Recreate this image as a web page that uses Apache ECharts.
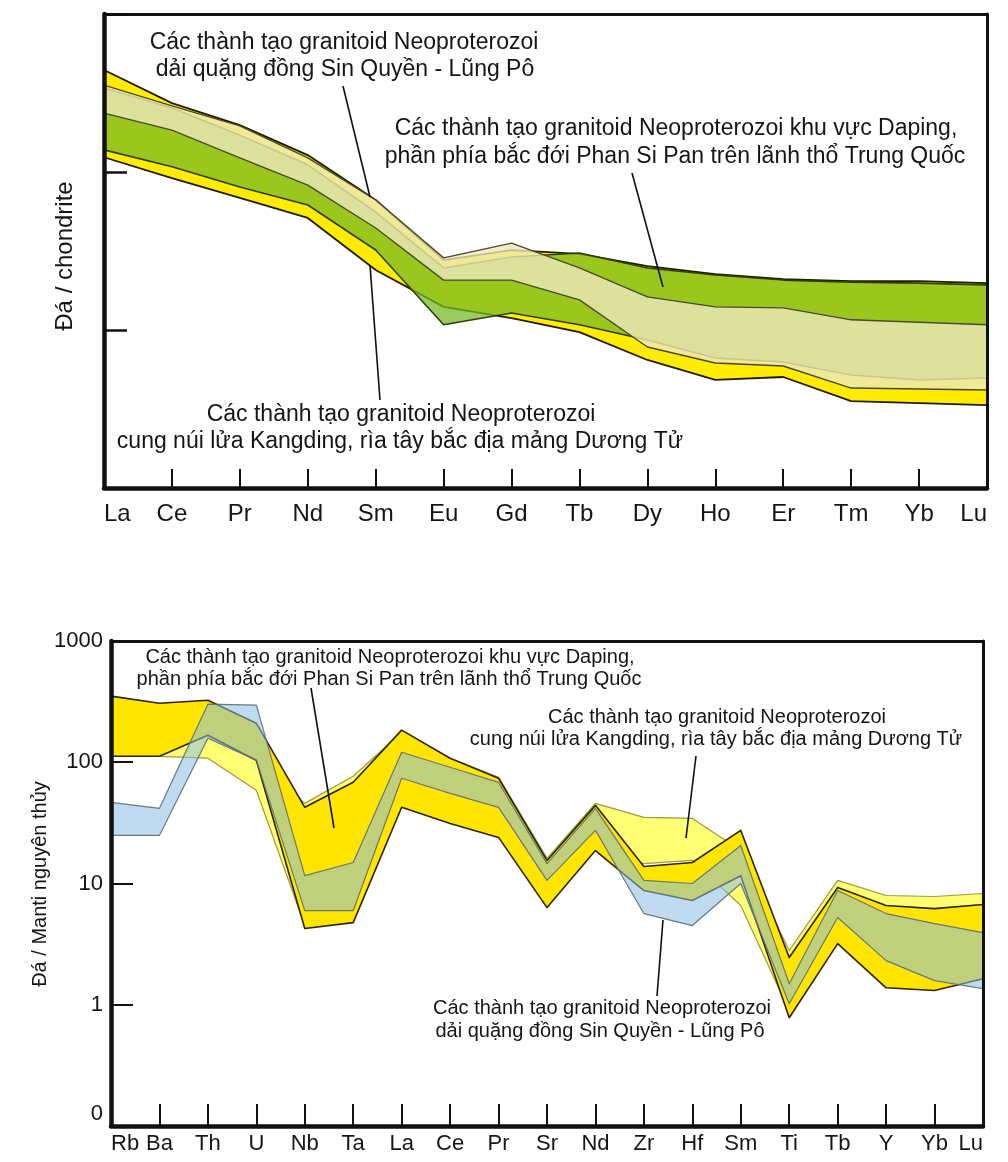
<!DOCTYPE html>
<html><head><meta charset="utf-8">
<script src="https://cdn.jsdelivr.net/npm/echarts@6/dist/echarts.min.js"></script>
<style>html,body{margin:0;padding:0;background:#fff}#c{width:1008px;height:1162px}</style>
</head><body><div id="c"></div>
<script>
// ---------- Top panel: REE / chondrite ----------
const reeElements = ['La','Ce','Pr','Nd','Sm','Eu','Gd','Tb','Dy','Ho','Er','Tm','Yb','Lu'];
const reeKangdingHigh = [442, 273, 198, 128, 66.5, 27.7, 32, 30.3, 25.4, 22.6, 21.0, 20.4, 20.4, 19.8];
const reeKangdingLow  = [124, 91.6, 68.5, 51.2, 24.0, 14.0, 11.9, 9.7, 6.46, 4.83, 5.04, 3.55, 3.45, 3.35];
const reeDapingHigh   = [340, 254, 171, 111, 55.8, 24.7, 29.0, 30.7, 24.7, 22.3, 20.7, 20.1, 19.8, 19.3];
const reeDapingLow    = [138, 108, 80.4, 61.8, 32.1, 10.8, 12.8, 10.8, 8.64, 6.65, 6.27, 5.19, 4.83, 4.97];
const reeSinQuyenHigh = [355, 262, 196, 123, 66.5, 28.6, 35.5, 24.7, 16.2, 14.0, 13.8, 11.6, 11.2, 10.8];
const reeSinQuyenLow  = [236, 184, 123, 82.7, 44.2, 20.7, 20.7, 15.5, 7.81, 6.18, 5.92, 4.29, 4.23, 4.17];

// ---------- Bottom panel: spider diagram / primitive mantle ----------
const spiderElements = ['Rb','Ba','Th','U','Nb','Ta','La','Ce','Pr','Sr','Nd','Zr','Hf','Sm','Ti','Tb','Y','Yb','Lu'];
const spDapingHigh   = [351, 307, 325, 210, 42.5, 68.3, 184, 108, 73.8, 15.5, 44.1, 13.8, 14.9, 27.4, 2.45, 9.27, 6.58, 6.21, 6.71];
const spDapingLow    = [112, 112, 167, 104, 4.25, 4.76, 42.5, 31.3, 24.0, 6.33, 18.7, 8.75, 7.24, 11.6, 0.781, 3.19, 1.38, 1.31, 1.64];
const spKangdingHigh = [202, 167, 167, 108, 45.8, 76.6, 177, 108, 75.2, 16.1, 45.8, 35.1, 34.4, 18.7, 2.80, 10.6, 7.96, 7.81, 8.27];
const spKangdingLow  = [112, 112, 108, 58.7, 4.5, 5.14, 44.1, 33.2, 24.9, 6.58, 19.5, 14.6, 15.5, 6.58, 0.89, 3.72, 1.74, 1.44, 2.31];
const spSinQuyenHigh = [46.7, 41.7, 301, 296, 11.6, 14.9, 121, 90.9, 68.3, 14.6, 41.7, 10.6, 10, 20.6, 1.49, 8.75, 5.65, 4.67, 3.94];
const spSinQuyenLow  = [24.9, 24.9, 158, 104, 5.98, 5.98, 73.8, 55.4, 42.5, 10.6, 27.4, 5.65, 4.5, 10, 1.02, 5.24, 2.31, 1.58, 1.36];

const FONT = "'Liberation Sans', Arial, sans-serif";
const INK = '#151515';

function band(name, xi, yi, hi, lo, fill, stroke, lw) {
  return {
    type: 'custom', name, xAxisIndex: xi, yAxisIndex: yi, silent: true,
    data: [[0, 10]], encode: {x: 0, y: 1}, animation: false,
    renderItem: function (params, api) {
      const pts = [];
      for (let i = 0; i < hi.length; i++) pts.push(api.coord([i, hi[i]]));
      for (let i = lo.length - 1; i >= 0; i--) pts.push(api.coord([i, lo[i]]));
      return {type: 'polygon', shape: {points: pts},
        style: {fill: fill, stroke: stroke, lineWidth: lw, lineJoin: 'round'}};
    }
  };
}

function txt(t, x, y, size, rot) {
  return {type: 'text', x: x, y: y, z: 100, rotation: rot || 0,
    style: {text: t, fill: INK, font: size + 'px ' + FONT, align: 'center', verticalAlign: 'middle'}};
}
function seg(x1, y1, x2, y2) {
  return {type: 'line', z: 100, shape: {x1, y1, x2, y2}, style: {stroke: '#111', lineWidth: 1.6}};
}

const chart = echarts.init(document.getElementById('c'), null, {renderer: 'canvas'});
chart.setOption({
  animation: false,
  backgroundColor: '#fff',
  grid: [
    {left: 104, top: 14, width: 883, height: 474},
    {left: 111, top: 641, width: 872, height: 485}
  ],
  xAxis: [
    {gridIndex: 0, type: 'category', data: reeElements, boundaryGap: false, position: 'bottom', z: 10,
     axisLine: {lineStyle: {color: '#111', width: 4.5}},
     axisTick: {inside: true, length: 19, lineStyle: {color: '#111', width: 2}},
     axisLabel: {fontSize: 24, fontFamily: FONT, color: INK, margin: 14, interval: 0,
                 alignMinLabel: 'left', alignMaxLabel: 'right'},
     splitLine: {show: false}},
    {gridIndex: 0, type: 'category', data: reeElements, boundaryGap: false, position: 'top', z: 10,
     axisLine: {lineStyle: {color: '#111', width: 3}}, axisTick: {show: false}, axisLabel: {show: false},
     splitLine: {show: false}},
    {gridIndex: 1, type: 'category', data: spiderElements, boundaryGap: false, position: 'bottom', z: 10,
     axisLine: {lineStyle: {color: '#111', width: 4.5}},
     axisTick: {inside: true, length: 22, lineStyle: {color: '#111', width: 2}},
     axisLabel: {fontSize: 22, fontFamily: FONT, color: INK, margin: 7, interval: 0,
                 alignMinLabel: 'left', alignMaxLabel: 'right'},
     splitLine: {show: false}},
    {gridIndex: 1, type: 'category', data: spiderElements, boundaryGap: false, position: 'top', z: 10,
     axisLine: {lineStyle: {color: '#111', width: 3}}, axisTick: {show: false}, axisLabel: {show: false},
     splitLine: {show: false}}
  ],
  yAxis: [
    {gridIndex: 0, type: 'log', logBase: 10, min: 1, max: 1000, splitNumber: 3, position: 'left', z: 10,
     axisLine: {show: true, lineStyle: {color: '#111', width: 4.5}},
     axisTick: {show: true, inside: true, length: 23, lineStyle: {color: '#111', width: 2.5}},
     axisLabel: {show: false}, splitLine: {show: false}},
    {gridIndex: 0, type: 'value', min: 0, max: 1, position: 'right', z: 10,
     axisLine: {show: true, lineStyle: {color: '#111', width: 3}},
     axisTick: {show: false}, axisLabel: {show: false}, splitLine: {show: false}},
    {gridIndex: 1, type: 'log', logBase: 10, min: 0.1, max: 1000, splitNumber: 4, position: 'left', z: 10,
     axisLine: {show: true, lineStyle: {color: '#111', width: 4.5}},
     axisTick: {show: true, inside: true, length: 22, lineStyle: {color: '#111', width: 2}},
     axisLabel: {fontSize: 22, fontFamily: FONT, color: INK, margin: 8,
       formatter: function (v) { return v < 0.5 ? '{z|0}' : String(Math.round(v)); },
       rich: {z: {fontSize: 22, fontFamily: FONT, color: INK, padding: [0, 0, 24, 0]}}},
     splitLine: {show: false}},
    {gridIndex: 1, type: 'value', min: 0, max: 1, position: 'right', z: 10,
     axisLine: {show: true, lineStyle: {color: '#111', width: 3}},
     axisTick: {show: false}, axisLabel: {show: false}, splitLine: {show: false}}
  ],
  series: [
    band('Kangding (REE)', 0, 0, reeKangdingHigh, reeKangdingLow, '#FFEC00', '#1f1b00', 1.8),
    band('Daping (REE)', 0, 0, reeDapingHigh, reeDapingLow, 'rgba(120,185,40,0.75)', '#2f3d0f', 1.6),
    band('Sin Quyền (REE)', 0, 0, reeSinQuyenHigh, reeSinQuyenLow, 'rgba(236,233,186,0.8)', '#4a4a30', 1.4),
    band('Kangding (spider)', 2, 2, spKangdingHigh, spKangdingLow, '#FFFF73', '#9c9a3c', 1.2),
    band('Daping (spider)', 2, 2, spDapingHigh, spDapingLow, '#FFE500', '#2b2500', 1.6),
    band('Sin Quyền (spider)', 2, 2, spSinQuyenHigh, spSinQuyenLow, 'rgba(140,190,225,0.55)', 'rgba(90,110,120,0.9)', 1.2)
  ],
  graphic: [
    txt('Đá / chondrite', 65, 256, 24, Math.PI / 2),
    txt('Đá / Manti nguyên thủy', 40, 884, 20, Math.PI / 2),
    // top panel annotations
    txt('Các thành tạo granitoid Neoproterozoi', 344, 43, 23),
    txt('dải quặng đồng Sin Quyền - Lũng Pô', 345, 70, 23),
    seg(343, 86, 370, 197),
    txt('Các thành tạo granitoid Neoproterozoi khu vực Daping,', 676, 129, 23),
    txt('phần phía bắc đới Phan Si Pan trên lãnh thổ Trung Quốc', 675, 157, 23),
    seg(632, 173, 663, 287),
    txt('Các thành tạo granitoid Neoproterozoi', 401, 415, 23),
    txt('cung núi lửa Kangding, rìa tây bắc địa mảng Dương Tử', 400, 442, 23),
    seg(380, 400, 370, 265),
    // bottom panel annotations
    txt('Các thành tạo granitoid Neoproterozoi khu vực Daping,', 390, 657, 20),
    txt('phần phía bắc đới Phan Si Pan trên lãnh thổ Trung Quốc', 389, 679, 20),
    seg(311, 688, 334, 828),
    txt('Các thành tạo granitoid Neoproterozoi', 717, 717, 20),
    txt('cung núi lửa Kangding, rìa tây bắc địa mảng Dương Tử', 716, 739, 20),
    seg(696, 756, 686, 838),
    txt('Các thành tạo granitoid Neoproterozoi', 602, 1008, 20),
    txt('dải quặng đồng Sin Quyền - Lũng Pô', 600, 1031, 20),
    seg(657, 996, 663, 920)
  ]
});
</script>
</body></html>
